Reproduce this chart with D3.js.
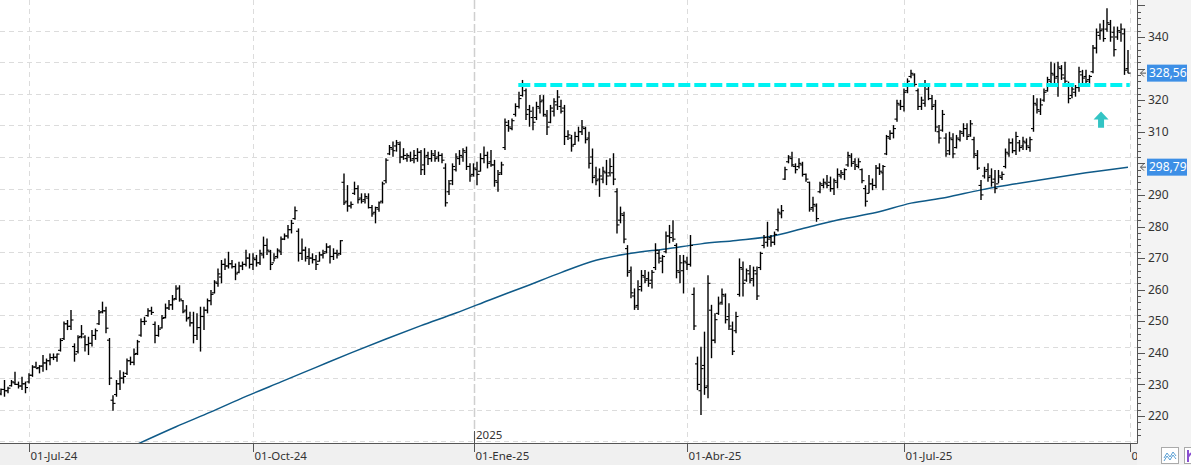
<!DOCTYPE html>
<html><head><meta charset="utf-8">
<script src="https://cdn.jsdelivr.net/npm/d3@7"></script>
<style>body{margin:0;background:#fff;overflow:hidden}svg{display:block;font-family:"Noto Sans",sans-serif}</style>
</head><body><svg id="c" width="1191" height="465"></svg>
<script>
// ---- data ----
const highs=[228.7,231.4,229.3,231.4,234.0,230.9,232.4,230.9,233.5,236.1,237.2,236.1,239.3,238.2,239.8,239.8,239.8,244.6,249.9,250.4,253.6,243.0,245.6,248.8,245.6,245.1,247.2,247.7,253.6,256.2,254.6,244.7,226.6,231.4,234.5,234.0,238.2,238.8,241.4,244.1,250.9,251.4,254.1,254.6,249.9,248.8,252.0,255.6,256.7,258.3,261.4,261.4,256.7,255.1,253.0,253.0,252.5,254.6,254.6,257.2,259.9,263.0,266.7,269.4,269.9,272.0,269.4,268.3,268.8,268.9,272.6,271.5,271.5,271.0,272.6,276.8,276.2,272.6,271.5,273.1,276.8,277.8,280.5,282.1,286.3,279.4,276.2,273.6,273.1,271.5,271.0,272.0,272.6,274.7,274.1,273.1,272.6,275.7,296.8,293.1,287.9,294.2,293.1,290.5,290.5,290.5,286.8,286.3,287.9,294.2,301.6,305.8,306.9,307.4,306.9,304.8,303.2,303.7,304.2,304.8,304.2,304.8,303.7,304.2,304.2,303.7,303.2,300.0,294.7,300.0,303.2,304.2,304.8,305.3,300.0,300.0,300.5,303.2,305.3,303.7,304.2,301.1,297.9,300.5,314.2,313.7,314.2,319.0,322.7,326.4,323.7,318.5,317.9,319.5,321.6,321.6,316.9,318.5,320.6,323.2,320.1,318.5,310.5,309.0,310.0,311.6,313.7,311.6,310.0,304.7,298.9,298.4,298.9,301.1,301.6,303.2,292.1,286.3,284.7,274.1,267.3,260.4,263.0,266.2,266.2,265.7,266.2,274.7,272.6,271.0,278.4,280.5,282.0,274.7,271.0,271.0,270.4,277.3,260.7,238.8,241.9,246.7,264.6,255.2,252.5,257.8,260.4,258.8,255.7,249.9,253.0,269.9,268.9,266.7,267.8,267.3,267.3,272.0,277.3,281.5,277.3,278.4,285.7,286.8,298.9,302.6,303.7,300.0,301.6,300.5,296.8,294.2,289.4,287.3,294.2,295.2,296.3,295.8,295.2,298.4,297.9,298.4,303.7,303.2,301.6,301.6,298.4,293.1,296.3,295.2,299.5,300.0,299.5,309.0,310.5,312.1,320.1,320.1,323.7,326.9,329.6,328.5,323.7,321.1,326.4,325.3,321.6,320.1,312.1,316.9,309.5,310.0,309.5,309.0,310.5,312.7,312.7,313.7,308.4,304.2,294.7,298.9,300.0,298.4,297.9,297.9,297.4,304.7,307.9,307.9,310.0,307.4,308.4,307.9,308.4,321.6,320.6,320.6,323.7,327.4,332.2,331.7,332.2,331.1,332.2,325.9,324.8,324.8,330.6,329.6,329.6,328.0,337.5,342.7,344.3,345.4,349.1,345.4,343.3,343.3,344.3,342.7,335.9];
const lows=[226.6,226.1,227.2,229.3,229.8,228.7,228.2,227.2,230.3,232.4,235.1,233.5,234.0,234.5,236.1,237.7,237.2,240.4,244.1,247.2,247.2,237.2,239.8,244.6,240.4,239.3,242.0,244.1,248.8,252.5,246.2,229.8,221.7,226.1,228.2,230.3,233.0,236.1,236.1,239.3,245.1,248.8,251.4,252.0,243.0,245.1,247.7,250.9,253.6,253.6,256.7,256.2,252.5,249.9,248.3,243.0,244.1,240.4,247.2,252.5,255.1,258.8,260.9,262.0,266.2,266.7,266.7,263.0,265.2,266.2,267.3,266.7,266.2,267.3,267.8,269.9,271.0,266.2,268.9,269.9,271.0,275.7,276.2,277.8,282.1,268.9,269.4,268.9,267.8,268.3,266.2,268.9,269.9,271.5,268.3,269.4,269.9,271.0,286.8,284.7,285.7,290.0,287.3,287.3,287.3,285.7,283.1,281.0,284.7,287.3,293.7,302.6,302.1,303.7,300.0,301.1,300.5,300.5,300.0,300.5,296.3,296.3,299.5,300.5,300.5,300.5,300.0,286.3,290.0,293.1,297.4,299.5,300.5,297.9,294.2,295.8,293.1,297.4,300.0,298.4,298.9,292.6,291.0,296.3,304.2,310.0,310.5,314.8,317.4,321.1,313.7,311.6,310.5,313.7,315.8,314.8,309.0,312.7,314.8,316.9,315.8,305.8,307.4,303.7,305.8,306.9,309.0,306.3,298.4,293.7,293.1,289.4,293.7,293.1,295.8,293.1,277.8,281.0,274.7,264.1,257.3,253.6,253.6,259.4,262.0,260.9,260.4,266.2,268.3,265.2,271.5,274.7,275.2,263.6,262.0,258.8,266.2,267.3,247.2,228.2,220.3,226.7,225.6,238.3,243.0,252.0,255.2,249.3,247.2,239.3,246.2,257.8,257.8,262.5,262.0,261.0,256.7,266.2,273.1,273.6,273.6,274.1,278.4,282.6,294.7,300.0,298.9,296.8,298.4,295.8,294.2,284.7,284.7,281.5,290.5,292.1,292.1,291.0,290.0,292.1,295.2,294.7,298.9,298.9,297.9,298.4,293.7,286.3,290.5,291.5,292.1,296.3,291.5,302.6,307.4,307.9,313.2,316.9,316.4,322.2,326.9,324.3,316.9,316.9,317.9,320.0,316.9,310.0,306.3,310.0,302.1,302.6,301.6,304.7,306.9,308.4,307.4,308.4,301.6,297.9,288.4,295.2,294.2,292.6,290.5,293.7,294.7,298.4,302.1,303.2,302.6,303.7,304.2,304.2,303.7,310.0,315.8,315.3,319.5,322.7,324.3,324.8,321.1,326.4,324.8,319.0,320.6,321.1,322.7,325.3,324.8,325.3,328.5,334.8,339.1,338.5,341.7,338.5,333.8,339.1,338.5,328.0,328.56];
const opens=[227.0,228.4,228.0,229.6,230.5,230.0,229.5,230.2,230.8,232.9,235.5,235.3,235.8,236.8,237.5,238.5,238.6,240.8,244.5,249.2,248.4,242.0,240.4,245.2,245.0,242.6,243.0,245.5,249.2,253.0,253.3,244.0,225.0,226.8,230.2,232.0,233.5,237.5,237.0,239.8,245.6,249.9,251.8,253.3,249.0,245.5,247.9,251.2,254.2,255.2,257.2,260.5,256.5,253.5,251.2,249.5,245.5,248.0,251.5,253.5,256.5,259.0,262.0,264.0,268.0,267.5,268.2,267.3,265.5,267.5,268.0,270.0,268.0,269.5,268.5,271.0,274.0,272.0,268.5,270.5,272.0,276.0,277.0,279.0,282.5,278.5,271.5,272.5,270.5,270.0,269.5,269.0,271.0,272.0,273.5,270.5,271.5,271.5,294.0,288.0,286.5,290.5,292.0,289.0,288.5,289.0,286.0,284.5,285.5,288.0,294.5,303.0,304.5,305.5,306.0,302.0,301.5,302.0,301.5,301.5,303.5,299.5,302.5,301.5,302.5,302.0,302.5,298.5,291.0,294.5,298.0,301.5,302.0,303.5,299.0,296.5,298.0,297.5,301.5,302.5,300.5,299.5,294.0,297.0,305.0,312.0,311.0,315.5,318.0,321.5,323.0,317.0,314.5,314.5,317.5,320.0,315.0,313.0,316.5,318.5,318.0,317.5,308.5,308.0,306.0,308.5,310.0,311.0,308.0,302.0,296.0,295.0,295.0,297.0,297.0,297.0,291.0,282.0,283.5,273.0,266.0,258.0,255.0,261.0,264.0,263.5,263.0,267.0,271.5,269.0,272.0,277.0,278.0,274.0,265.5,266.0,268.5,268.0,258.5,236.5,228.0,236.0,229.5,253.5,244.0,252.5,256.0,258.0,251.5,247.5,247.0,258.5,266.5,263.0,265.0,263.5,265.0,267.0,274.0,275.0,276.5,275.0,279.0,284.0,295.0,300.5,301.5,299.0,299.0,299.5,296.5,294.0,286.0,286.5,291.0,293.0,293.5,294.0,292.0,294.0,296.0,296.5,299.5,302.0,300.5,299.0,298.0,292.0,290.5,293.5,293.0,298.5,297.0,303.0,308.0,309.5,314.0,318.5,318.0,323.0,327.5,328.0,323.0,318.0,319.0,323.5,320.5,318.5,310.0,310.5,308.0,304.0,307.5,305.0,307.5,309.5,311.0,309.0,307.5,302.5,293.0,296.0,298.0,296.0,295.0,293.5,295.5,299.0,303.0,306.5,304.0,306.5,305.5,306.5,305.0,311.0,318.5,316.5,320.0,323.0,326.0,328.0,327.5,330.0,327.0,325.0,321.5,322.5,324.0,328.0,327.5,326.5,329.0,336.5,340.5,342.5,342.5,344.0,341.5,340.0,341.5,341.0,330.0];
const closes=[228.4,228.0,228.8,230.8,230.0,229.5,230.2,229.0,232.9,235.5,235.0,235.8,236.8,237.5,238.5,238.6,239.6,243.9,249.2,248.4,250.4,239.6,244.8,246.0,242.6,243.0,245.5,247.0,252.7,253.3,247.8,232.0,224.0,230.2,232.0,232.5,237.5,237.0,239.5,243.5,249.9,250.0,253.3,252.8,245.5,247.5,250.9,254.2,255.2,256.8,260.2,257.0,253.0,250.8,249.5,245.5,248.0,251.5,253.5,256.5,258.5,262.4,265.0,268.0,267.5,268.2,267.3,265.0,267.5,268.0,270.0,268.0,270.0,268.5,271.5,274.0,272.5,268.0,270.0,272.5,276.0,277.0,279.0,281.0,285.0,271.5,272.5,270.0,270.0,269.5,268.0,271.0,271.5,273.5,270.5,271.5,271.0,275.5,287.5,286.5,287.0,292.0,288.5,288.0,289.5,286.0,284.0,286.0,287.5,293.5,301.0,305.0,304.0,306.5,302.0,302.5,302.5,301.0,302.5,303.5,298.0,302.0,301.5,303.0,301.5,302.5,301.0,287.5,293.5,299.0,302.0,302.5,304.0,299.0,296.0,298.5,296.5,301.5,302.5,300.0,299.5,294.5,296.5,299.5,313.0,311.5,313.5,318.0,320.5,324.5,315.5,316.5,313.0,318.0,319.5,315.5,311.5,317.5,319.5,321.0,316.5,308.5,309.0,305.5,308.5,310.0,311.5,307.5,300.0,295.5,294.5,296.0,297.5,296.0,299.0,295.0,280.5,284.0,276.0,265.5,259.0,254.5,260.0,264.5,263.0,262.0,265.5,272.5,270.0,270.5,277.0,276.5,276.0,266.0,268.5,269.0,268.0,274.0,248.5,230.0,235.0,229.0,262.0,244.0,250.5,255.5,258.5,250.5,248.5,240.5,251.5,267.0,262.0,266.0,263.0,266.0,258.0,271.5,276.5,276.0,275.0,277.5,284.5,285.0,298.0,302.0,299.5,298.0,300.0,296.5,295.0,285.5,287.0,282.5,293.5,294.0,293.0,292.0,294.5,296.5,297.0,298.0,302.5,300.0,299.5,300.5,294.5,288.0,293.5,293.0,298.5,297.5,299.0,308.5,309.5,311.0,319.0,318.0,322.5,326.0,328.5,325.0,318.0,320.0,324.5,320.5,318.0,311.5,308.0,315.5,303.0,308.0,303.0,308.0,310.0,311.0,308.5,312.5,303.0,298.5,290.0,297.5,295.5,294.0,292.0,296.0,296.5,303.5,306.5,304.0,308.5,305.0,307.0,305.5,307.5,319.0,317.0,318.5,322.5,326.5,328.5,327.0,330.5,328.0,326.0,320.5,323.5,324.0,329.0,327.0,326.0,327.5,336.5,341.5,342.0,339.5,344.5,340.0,336.0,342.0,342.5,329.5,328.56];
const maIndex=[39,50,60,70,80,90,100,110,120,130,140,150,160,170,180,190,200,210,220,230,240,250,260,270,280,290,300,310,322];
const maValues=[211.1,216.6,221.3,226.2,230.8,235.4,240.0,244.4,248.6,252.6,256.9,261.1,265.4,269.3,271.5,272.9,274.5,275.6,276.9,279.6,282.3,284.4,287.4,289.2,291.6,293.5,295.3,297.0,298.79];
const xTickIndex=[8,72,135,196,258,322.6];
const xTickLabels=["01-Jul-24","01-Oct-24","01-Ene-25","01-Abr-25","01-Jul-25","01-Oct-25"];
const yearIndex=135, yearLabel="2025";
const yTickValues=[220,230,240,250,260,270,280,290,300,310,320,330,340];
const resistanceLevel=324.8, resistanceFrom=147.8, resistanceTo=322.5;
const arrowIndex=314.3, arrowTop=316.4, arrowBottom=311.3;
const lastPrice=328.56, lastMA=298.79;

// ---- layout ----
const W=1191,H=465,plotR=1137,plotB=443;
const svg=d3.select("#c");
const x=d3.scaleLinear().domain([0,322]).range([1,1128]);
const y=d3.scaleLinear().domain([220,340]).range([416,37]);
const fmt=v=>v.toFixed(2).replace(".",",");

svg.append("rect").attr("width",W).attr("height",H).attr("fill","#fff");
svg.append("defs").append("clipPath").attr("id","pc").append("rect").attr("width",plotR).attr("height",plotB);
const g=svg.append("g").attr("clip-path","url(#pc)");

// grid
const gridV=d3.range(212,352,10);
g.selectAll(".hg").data(gridV).join("line").attr("x1",0).attr("x2",plotR)
 .attr("y1",d=>Math.round(y(d))+0.5).attr("y2",d=>Math.round(y(d))+0.5)
 .attr("stroke","#dcdcdc").attr("stroke-dasharray","5,4");
g.selectAll(".vg").data(xTickIndex.filter(d=>d!==yearIndex)).join("line")
 .attr("x1",d=>Math.round(x(d))+0.5).attr("x2",d=>Math.round(x(d))+0.5).attr("y1",0).attr("y2",plotB)
 .attr("stroke","#dcdcdc").attr("stroke-dasharray","5,4");
g.append("line").attr("x1",Math.round(x(yearIndex))+0.5).attr("x2",Math.round(x(yearIndex))+0.5)
 .attr("y1",0).attr("y2",plotB).attr("stroke","#cfcfcf").attr("stroke-width",1.5).attr("stroke-dasharray","9,3");

// moving average
g.append("path").datum(maIndex.map((d,i)=>[d,maValues[i]]))
 .attr("d",d3.line().x(d=>x(d[0])).y(d=>y(d[1])).curve(d3.curveMonotoneX))
 .attr("fill","none").attr("stroke","#0f5a88").attr("stroke-width",1.5);

// OHLC bars
const bars=g.append("g").attr("stroke","#000").attr("stroke-width",1.4);
highs.forEach((h,i)=>{
  const cx=x(i);
  bars.append("line").attr("x1",cx).attr("x2",cx).attr("y1",y(h)).attr("y2",y(lows[i]));
  bars.append("line").attr("x1",cx-2.5).attr("x2",cx).attr("y1",y(opens[i])).attr("y2",y(opens[i])).attr("stroke-width",1.1);
  bars.append("line").attr("x1",cx).attr("x2",cx+2.5).attr("y1",y(closes[i])).attr("y2",y(closes[i])).attr("stroke-width",1.1);
});

// resistance
g.append("line").attr("x1",x(resistanceFrom)).attr("x2",x(resistanceTo))
 .attr("y1",y(resistanceLevel)).attr("y2",y(resistanceLevel))
 .attr("stroke","#00f2f2").attr("stroke-width",4).attr("stroke-dasharray","12,4");

// up arrow
{
 const ax=x(arrowIndex), t=y(arrowTop), b=y(arrowBottom), hh=8;
 g.append("path").attr("d",`M${ax},${t} L${ax+7.5},${t+hh} L${ax+3},${t+hh} L${ax+3},${b} L${ax-3},${b} L${ax-3},${t+hh} L${ax-7.5},${t+hh} Z`)
  .attr("fill","#33c4c4");
}

// axis bands
svg.append("rect").attr("x",plotR).attr("y",0).attr("width",W-plotR).attr("height",H).attr("fill","#f3f3f3");
svg.append("rect").attr("x",0).attr("y",plotB).attr("width",plotR).attr("height",H-plotB).attr("fill","#f0f0f0");
svg.append("line").attr("x1",0).attr("x2",plotR+0.5).attr("y1",plotB+0.5).attr("y2",plotB+0.5).attr("stroke","#555");
svg.append("line").attr("x1",plotR+0.5).attr("x2",plotR+0.5).attr("y1",0).attr("y2",plotB+0.5).attr("stroke","#555");

// right axis ticks
const minor=d3.range(214,352,2).filter(v=>y(v)>0&&y(v)<plotB);
svg.selectAll(".mt").data(minor).join("line").attr("x1",plotR).attr("x2",d=>plotR+(d%10===0?8:4))
 .attr("y1",d=>Math.round(y(d))+0.5).attr("y2",d=>Math.round(y(d))+0.5).attr("stroke","#555");
// tick labels hidden where the price boxes sit (as in the reference)
const visibleTicks=yTickValues.filter(v=>[lastPrice,lastMA].every(p=>Math.abs(y(v)-y(p))>12));
svg.selectAll(".yl").data(visibleTicks).join("text").attr("x",1148).attr("y",d=>y(d)).attr("dy","0.35em")
 .attr("font-size",12).attr("fill","#333").text(d=>d);

// bottom axis
const bx=svg.append("g");
svg.append("defs").append("clipPath").attr("id","bc").append("rect").attr("width",plotR).attr("height",H);
bx.attr("clip-path","url(#bc)");
bx.selectAll(".xt").data(xTickIndex).join("line").attr("x1",d=>Math.round(x(d))+0.5).attr("x2",d=>Math.round(x(d))+0.5)
 .attr("y1",plotB).attr("y2",plotB+9).attr("stroke","#555");
bx.selectAll(".xl").data(xTickIndex).join("text").attr("x",d=>Math.round(x(d))+1.5).attr("y",460)
 .attr("font-size",11.5).attr("fill","#333").text((d,i)=>xTickLabels[i]);
svg.append("line").attr("x1",Math.round(x(yearIndex))+0.5).attr("x2",Math.round(x(yearIndex))+0.5).attr("y1",plotB-12).attr("y2",plotB).attr("stroke","#555");
svg.append("text").attr("x",Math.round(x(yearIndex))+2).attr("y",plotB-4).attr("font-size",11.5).attr("fill","#333").text(yearLabel);

// price labels
[lastPrice,lastMA].forEach(v=>{
  const yy=y(v);
  svg.append("path").attr("d",`M${1144},${yy-3.5} L${1140.5},${yy} L${1144},${yy+3.5} M${1140.5},${yy} L${1146},${yy}`)
   .attr("fill","none").attr("stroke","#555");
  svg.append("rect").attr("x",1147).attr("y",yy-8.5).attr("width",40).attr("height",17).attr("fill","#3d8fe6");
  svg.append("text").attr("x",1149).attr("y",yy).attr("dy","0.36em").attr("font-size",12).attr("fill","#fff").text(fmt(v));
});

// bottom-right buttons
svg.append("rect").attr("x",1161.5).attr("y",447.5).attr("width",17).attr("height",16).attr("fill","#fff").attr("stroke","#aaa");
svg.append("path").attr("d","M1164,458 L1167,453 L1170,457 L1173,452 L1176,456 M1164,461 L1167,456 L1170,460 L1173,455 L1176,459")
 .attr("fill","none").attr("stroke","#5a9fd4").attr("stroke-width",1);
svg.append("rect").attr("x",1184.5).attr("y",447.5).attr("width",10).attr("height",16).attr("fill","#fff").attr("stroke","#aaa");
svg.append("path").attr("d","M1188,450 L1188,462 M1188,457 L1191,453").attr("fill","none").attr("stroke","#8a4fd0").attr("stroke-width",2);
</script></body></html>
